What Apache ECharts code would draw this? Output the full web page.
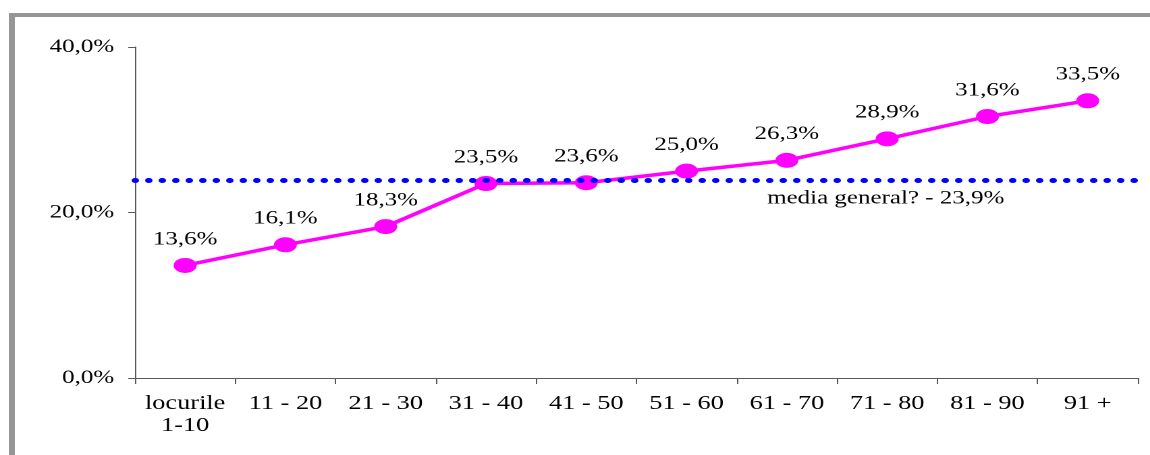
<!DOCTYPE html>
<html>
<head>
<meta charset="utf-8">
<script src="https://cdn.jsdelivr.net/npm/echarts@6/dist/echarts.min.js"></script>
<style>
  html, body { margin: 0; padding: 0; background: #ffffff; overflow: hidden; width: 1150px; height: 455px; }
  /* grey frame bars on the left and top edges of the chart area */
  .bar { position: absolute; background: #969696; }
  #barTop { left: 9px; top: 13px; width: 1141px; height: 4px; }
  #barLeft { left: 9px; top: 13px; width: 6px; height: 442px; }
  /* the chart is laid out narrow and widened horizontally, like the original export */
  #wrap { position: absolute; left: 0; top: 0; width: 850px; height: 455px; overflow: hidden;
          transform: scaleX(1.3498); transform-origin: 0 0; }
  #chart { width: 850px; height: 455px; }
</style>
</head>
<body>
<div class="bar" id="barTop"></div>
<div class="bar" id="barLeft"></div>
<div id="wrap"><div id="chart"></div></div>
<script>
// Ranking bands (places) on the category axis
const categories = ['locurile\n1-10', '11 - 20', '21 - 30', '31 - 40', '41 - 50',
                    '51 - 60', '61 - 70', '71 - 80', '81 - 90', '91 +'];
// Share (%) for each band
const shares = [13.6, 16.1, 18.3, 23.5, 23.6, 25.0, 26.3, 28.9, 31.6, 33.5];
// General average and its caption
const generalAverage = 23.9;
const averageLabel = 'media general? - 23,9%';
// Value axis range and step
const yMin = 0, yMax = 40, yStep = 20;

const pct = v => Number(v).toFixed(1).replace('.', ',') + '%';
const serif = 'Liberation Serif';

const chart = echarts.init(document.getElementById('chart'), null, { renderer: 'canvas', devicePixelRatio: 2 });
chart.setOption({
  backgroundColor: 'transparent',
  animation: false,
  textStyle: { fontFamily: serif, color: '#000000', fontWeight: 'normal' },
  grid: { left: 100, right: 7, top: 47, bottom: 77, containLabel: false },
  xAxis: {
    type: 'category',
    data: categories,
    boundaryGap: true,
    axisLine: { lineStyle: { color: '#595959', width: 1 } },
    axisTick: { show: true, alignWithLabel: false, length: 6, lineStyle: { color: '#595959' } },
    axisLabel: { interval: 0, margin: 15, fontSize: 19.5, lineHeight: 22, color: '#000000', fontFamily: serif, fontWeight: 'normal' },
    splitLine: { show: false }
  },
  yAxis: {
    type: 'value',
    min: yMin, max: yMax, interval: yStep,
    axisLine: { show: true, lineStyle: { color: '#595959', width: 1 } },
    axisTick: { show: true, length: 5, lineStyle: { color: '#595959' } },
    axisLabel: { margin: 15.5, fontSize: 18.5, color: '#000000', fontFamily: serif, fontWeight: 'normal', formatter: pct },
    splitLine: { show: false }
  },
  series: [{
    type: 'line',
    data: shares,
    symbol: 'circle',
    symbolSize: [17, 15],
    itemStyle: { color: '#FF00FF' },
    lineStyle: { color: '#FF00FF', width: 3.5 },
    label: {
      show: true, position: 'top', distance: 9,
      fontSize: 18.5, color: '#000000', fontFamily: serif, fontWeight: 'normal',
      formatter: p => pct(p.value)
    },
    markLine: {
      silent: true,
      symbol: ['none', 'none'],
      z: 10,
      lineStyle: { color: '#0000FF', width: 5, type: [0.5, 9.5], cap: 'round' },
      label: {
        show: true, position: 'insideEndBottom', distance: [99, 9],
        fontSize: 18.5, color: '#000000', fontFamily: serif, fontWeight: 'normal',
        formatter: () => averageLabel
      },
      data: [{ yAxis: generalAverage }]
    }
  }]
});
</script>
</body>
</html>
